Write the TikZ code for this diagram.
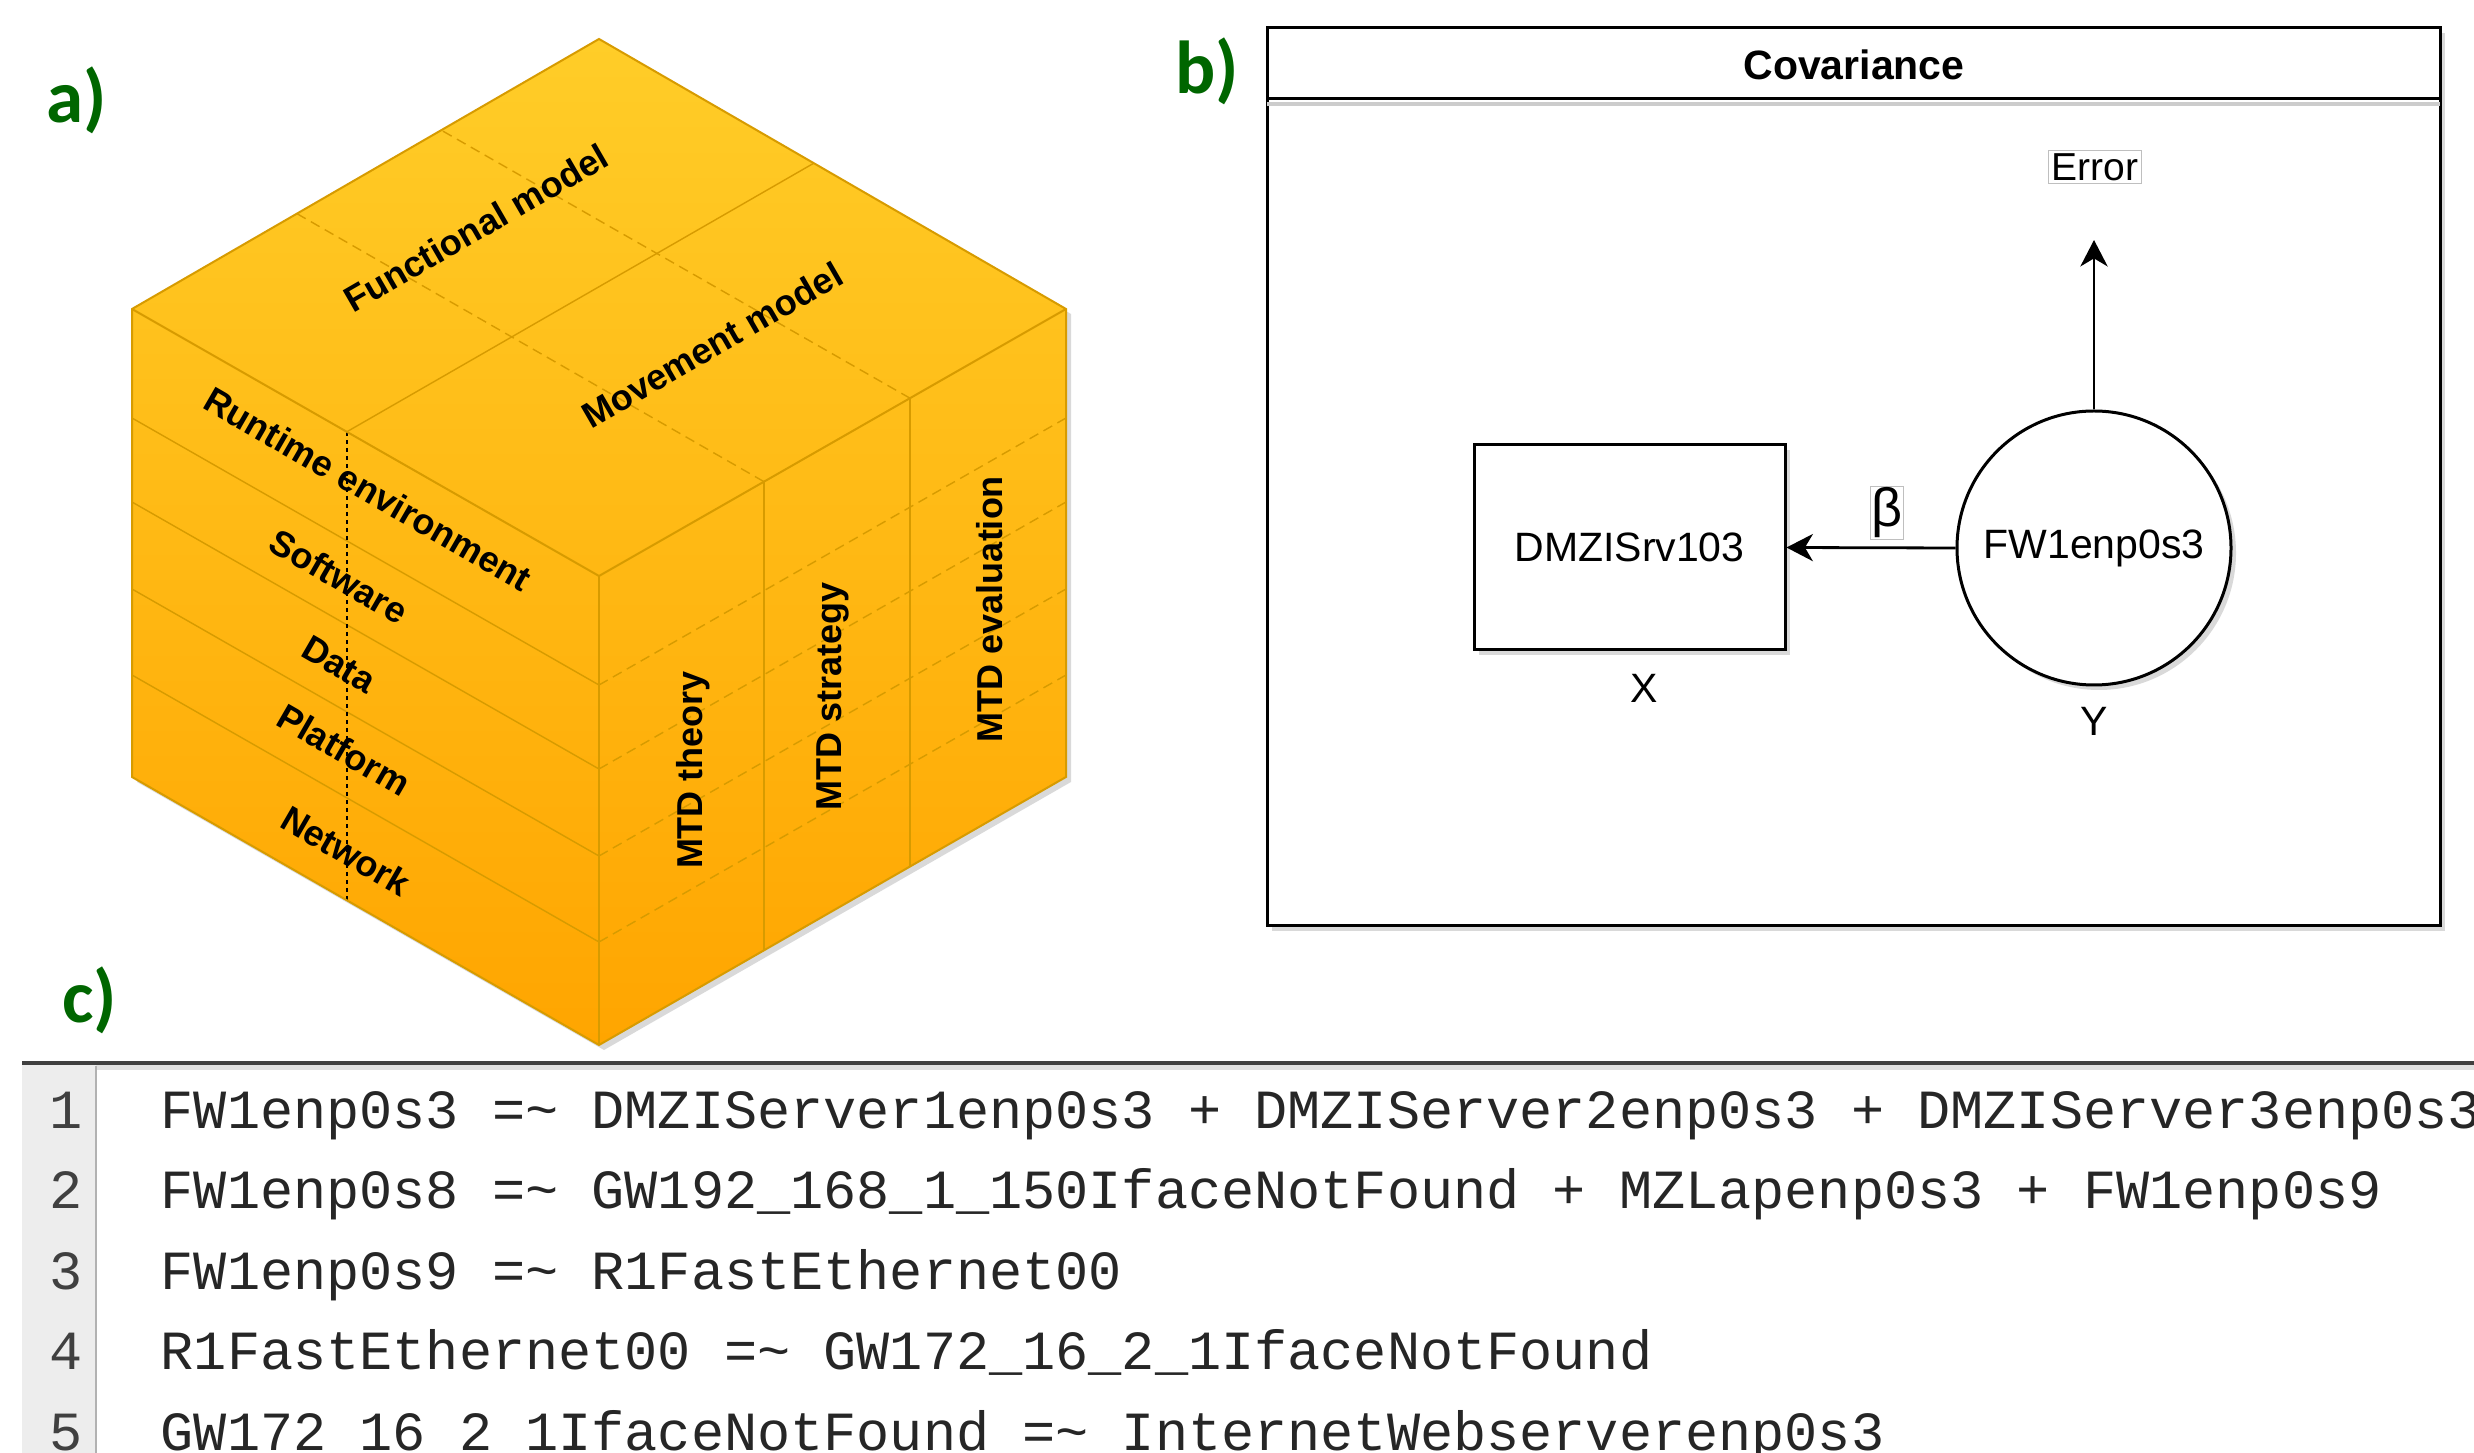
\documentclass[tikz,border=0pt]{standalone}
\usepackage{fontspec}
\setmainfont{Liberation Sans}
\newfontfamily\codefont{Liberation Mono}
\newfontfamily\lblfont{Carlito}
\usetikzlibrary{arrows.meta}
\definecolor{cubeedge}{HTML}{D79B00}
\definecolor{cubetop}{HTML}{FFCD28}
\definecolor{cubebot}{HTML}{FFA500}
\definecolor{lblgreen}{RGB}{0,102,0}
\definecolor{guttercol}{HTML}{EDEDED}
\newcommand{\codetilde}{\char`\~}
\tikzset{
  cubelbl/.style={font=\bfseries\fontsize{9}{10}\selectfont, inner sep=0pt},
  cubeline/.style={draw=cubeedge, line width=0.35pt},
  cubedash/.style={draw=cubeedge, line width=0.35pt, dash pattern=on 2.5pt off 1.5pt},
  cubeedgeline/.style={draw=cubeedge, line width=0.5pt},
  panellbl/.style={font=\lblfont\bfseries\fontsize{18.75}{20}\selectfont, text=lblgreen, inner sep=0pt},
  semtext/.style={font=\fontsize{10.25}{12}\selectfont, inner sep=0pt},
  shadowfill/.style={fill=black, opacity=0.15},
  tagbox/.style={draw=black!25, line width=0.3pt, fill=white, inner sep=0.8pt, font=\fontsize{9.75}{11}\selectfont},
  arr/.style={line width=0.7pt, -{Stealth[length=6.6pt,width=6.8pt,inset=2pt]}},
  codetext/.style={font=\codefont\fontsize{13.81}{15}\selectfont, text=black!85, anchor=base west, inner sep=0pt},
  linenum/.style={font=\codefont\fontsize{13.81}{15}\selectfont, text=black!75, anchor=base, inner sep=0pt},
}
\begin{document}
\begin{tikzpicture}[x=0.25pt,y=-0.25pt]
\useasboundingbox (0,0) rectangle (2474,1453);
\clip (0,0) rectangle (2474,1453);
\fill[white] (0,0) rectangle (2474,1453);

% ---------------- a) cube ----------------
\coordinate (T) at (599,39);
\coordinate (L) at (132,309);
\coordinate (R) at (1066,309);
\coordinate (C) at (599,576);
\coordinate (LB) at (132,777);
\coordinate (RB) at (1066,777);
\coordinate (B) at (599,1045);
% shadow
\fill[shadowfill] ([shift={(5,5)}]T) -- ([shift={(5,5)}]R) -- ([shift={(5,5)}]RB) -- ([shift={(5,5)}]B) -- ([shift={(5,5)}]LB) -- ([shift={(5,5)}]L) -- cycle;
\shade[top color=cubetop, bottom color=cubebot] (T) -- (R) -- (RB) -- (B) -- (LB) -- (L) -- cycle;
% left face layer lines
\foreach \yy in {418,502,589,675}{
  \draw[cubeline] (132,\yy) -- (599,\yy+267);
  \draw[cubedash] (599,\yy+267) -- (1066,\yy);
}
% right face column lines
\draw[cubeline] (764,481.7) -- (764,950.7);
\draw[cubeline] (910,398.2) -- (910,867.2);
% top face
\draw[cubedash] (297,213.7) -- (764,481.7);
\draw[cubedash] (443,131.2) -- (910,398.2);
\draw[cubeline] (346.8,431.8) -- (813.8,163.2);
\draw[black, line width=0.35pt, dash pattern=on 1pt off 1pt] (346.8,431.8) -- (346.8,899.8);
% edges
\draw[cubeedgeline] (T) -- (R) -- (RB) -- (B) -- (LB) -- (L) -- cycle;
\draw[cubeedgeline] (L) -- (C) -- (R);
\draw[cubeedgeline] (C) -- (B);
% labels
\node[cubelbl, rotate=30] (fm) at (476,228) {Functional model};
\node[cubelbl, rotate=30] (mm) at (712,345) {Movement model};
\node[cubelbl, rotate=-30] (re) at (368,489) {Runtime environment};
\node[cubelbl, rotate=-30] (sw) at (339,576) {Software};
\node[cubelbl, rotate=-30] (da) at (339,664) {Data};
\node[cubelbl, rotate=-30] (pf) at (344,750) {Platform};
\node[cubelbl, rotate=-30] (nw) at (346,851) {Network};
\node[cubelbl, rotate=90] (mt) at (693,770) {MTD theory};
\node[cubelbl, rotate=90] (ms) at (833,696) {MTD strategy};
\node[cubelbl, rotate=90] (me) at (990,609) {MTD evaluation};

% ---------------- panel labels ----------------
\node[panellbl] (la) at (77,100) {a)};
\node[panellbl] (lb) at (1207,71) {b)};
\node[panellbl] (lc) at (90,1000) {c)};

% ---------------- b) covariance ----------------
\fill[shadowfill] (1272,33) rectangle (2445,931);
\draw[line width=0.75pt, fill=white] (1267,28) rectangle (2440,926);
\draw[black!20, line width=1.2pt] (1267,104) -- (2440,104);
\draw[line width=0.75pt] (1267,99) -- (2440,99);
\node[semtext, font=\bfseries\fontsize{10.25}{12}\selectfont] (title) at (1854,65) {Covariance};

\fill[shadowfill] (1479,450) rectangle (1790,655);
\fill[shadowfill] (2099,553) circle[radius=34.25pt];
\node[draw, line width=0.75pt, fill=white, minimum width=77.75pt, minimum height=51.25pt, inner sep=0pt, semtext] (dmz) at (1629.5,547.5) {DMZISrv103};
\node[circle, draw, line width=0.75pt, fill=white, minimum size=68.5pt, inner sep=0pt, semtext] (fw) at (2094,548) {FW1enp0s3};
\node[semtext] (xl) at (1644,688) {X};
\node[semtext] (yl) at (2094,721) {Y};
\node[tagbox] (err) at (2095,167) {Error};
\coordinate (errtip) at (2094,240);
\draw[arr] (fw.north) -- (errtip);
\draw[arr] (fw.west) -- (dmz.east);
\node[tagbox, inner sep=0.3pt, font=\fontsize{13.5}{14}\selectfont] (beta) at (1887,513) {β};

% ---------------- c) listing ----------------
\fill[black!12] (22,1065) rectangle (2474,1070);
\fill[guttercol] (22,1065) rectangle (96,1453);
\draw[black!30, line width=0.3pt] (96,1066) -- (96,1453);
\draw[black!75, line width=1pt] (22,1063) -- (2474,1063);
\node[linenum] (n1) at (66,1128) {1};
\node[linenum] (n2) at (66,1208.5) {2};
\node[linenum] (n3) at (66,1289) {3};
\node[linenum] (n4) at (66,1369.5) {4};
\node[linenum] (n5) at (66,1450) {5};
\node[codetext] (c1) at (160,1128) {FW1enp0s3 =\codetilde{} DMZIServer1enp0s3 + DMZIServer2enp0s3 + DMZIServer3enp0s3};
\node[codetext] (c2) at (160,1208.5) {FW1enp0s8 =\codetilde{} GW192\_168\_1\_150IfaceNotFound + MZLapenp0s3 + FW1enp0s9};
\node[codetext] (c3) at (160,1289) {FW1enp0s9 =\codetilde{} R1FastEthernet00};
\node[codetext] (c4) at (160,1369.5) {R1FastEthernet00 =\codetilde{} GW172\_16\_2\_1IfaceNotFound};
\node[codetext] (c5) at (160,1450) {GW172\_16\_2\_1IfaceNotFound =\codetilde{} InternetWebserverenp0s3};
\end{tikzpicture}
\end{document}
